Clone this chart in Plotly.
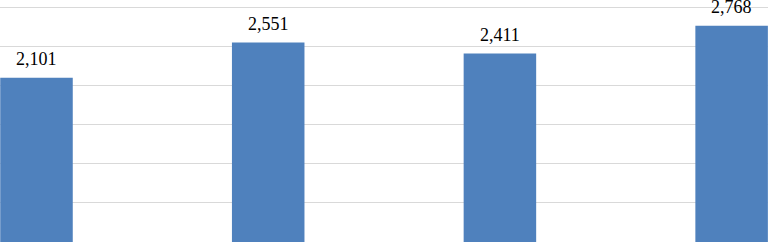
import plotly.graph_objects as go

categories = ["1", "2", "3", "4"]
values = [2101, 2551, 2411, 2768]
labels = ["2,101", "2,551", "2,411", "2,768"]

fig = go.Figure()
fig.add_trace(go.Bar(
    x=list(range(len(categories))),
    y=values,
    marker=dict(color="#4F81BD", line=dict(width=0)),
    width=0.313,
    hoverinfo="skip",
))

for i, (v, t) in enumerate(zip(values, labels)):
    fig.add_annotation(
        x=i, y=v, text=t, showarrow=False,
        yanchor="middle", yshift=19,
        font=dict(family="Liberation Serif, Times New Roman, serif", size=18, color="#000000"),
    )

fig.update_layout(
    width=768, height=242,
    margin=dict(l=0, r=0, t=0, b=0),
    paper_bgcolor="white", plot_bgcolor="white",
    showlegend=False,
    xaxis=dict(range=[-0.1575, 3.157], showticklabels=False, showgrid=False,
               zeroline=False, showline=False, ticks=""),
    yaxis=dict(range=[0, 3096], dtick=500, showticklabels=False, showgrid=True,
               gridcolor="#D9D9D9", gridwidth=1.3, zeroline=True, zerolinecolor="#D9D9D9",
               zerolinewidth=1.3, showline=False, ticks=""),
)

fig.write_html("out.html", config={"displayModeBar": False},
               post_script="document.body.style.margin='0';document.body.style.overflow='hidden';")
